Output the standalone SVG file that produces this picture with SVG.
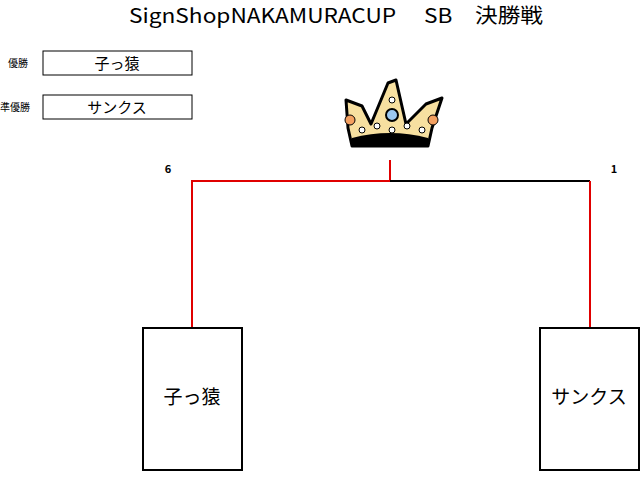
<svg xmlns="http://www.w3.org/2000/svg" width="641" height="477" viewBox="0 0 641 477">
<style>
text{font-family:"Noto Sans CJK JP","Liberation Sans",sans-serif;fill:#000}
.box{fill:#fff;stroke:#000;stroke-width:1}
.tb{fill:#fff;stroke:#000;stroke-width:2}
.red{stroke:#e00000;stroke-width:2;fill:none}
.blk{stroke:#000;stroke-width:2;fill:none}
</style>
<rect width="641" height="477" fill="#fff"/>
<text x="336" y="23" font-size="20" text-anchor="middle" textLength="414" lengthAdjust="spacingAndGlyphs">SignShopNAKAMURACUP　 SB　決勝戦</text>
<g id="winner-label"><text x="8" y="67" font-size="10">優勝</text><rect class="box" x="43" y="51" width="149" height="24"/><text x="117" y="69" font-size="15" text-anchor="middle">子っ猿</text></g>
<g id="runnerup-label"><text x="0" y="111" font-size="10">準優勝</text><rect class="box" x="43" y="95" width="149" height="24"/><text x="117" y="113" font-size="15" text-anchor="middle">サンクス</text></g>
<g id="crown">
<path d="M346 100 L362 106 L371 124 L388 83 L396 80 L406 124 L426 104 L442 98 L432 128 L428 146 L352 146 L348 128 Z" fill="#f7e0a0" stroke="#000" stroke-width="3" stroke-linejoin="round"/>
<path d="M352 138 Q390 128 428 138 L428 146 L352 146 Z" fill="#000"/>
<circle cx="350" cy="120" r="5" fill="#f4a060" stroke="#000"/>
<circle cx="433" cy="120" r="5" fill="#f4a060" stroke="#000"/>
<circle cx="392" cy="115" r="6" fill="#9cc8f0" stroke="#000" stroke-width="2"/>
<circle cx="392" cy="100" r="3" fill="#fff" stroke="#000"/>
<circle cx="392" cy="130" r="3" fill="#fff" stroke="#000"/>
<circle cx="377" cy="126" r="3" fill="#fff" stroke="#000"/>
<circle cx="407" cy="126" r="3" fill="#fff" stroke="#000"/>
<circle cx="362" cy="130" r="3" fill="#fff" stroke="#000"/>
<circle cx="422" cy="130" r="3" fill="#fff" stroke="#000"/>
</g>
<g id="connectors">
<path class="red" d="M192 327 V181 H390 V160"/>
<path class="blk" d="M390 181 H590"/>
<path class="red" d="M590 181 V327"/>
</g>
<text x="168" y="173" font-size="11" font-weight="bold" text-anchor="middle" font-family="Liberation Sans">6</text>
<text x="614" y="173" font-size="11" font-weight="bold" text-anchor="middle" font-family="Liberation Sans">1</text>
<g id="team1"><rect class="tb" x="143" y="328" width="99" height="142"/><text x="192" y="404" font-size="19" text-anchor="middle">子っ猿</text></g>
<g id="team2"><rect class="tb" x="540" y="328" width="99" height="142"/><text x="589" y="404" font-size="19" text-anchor="middle">サンクス</text></g>
</svg>
